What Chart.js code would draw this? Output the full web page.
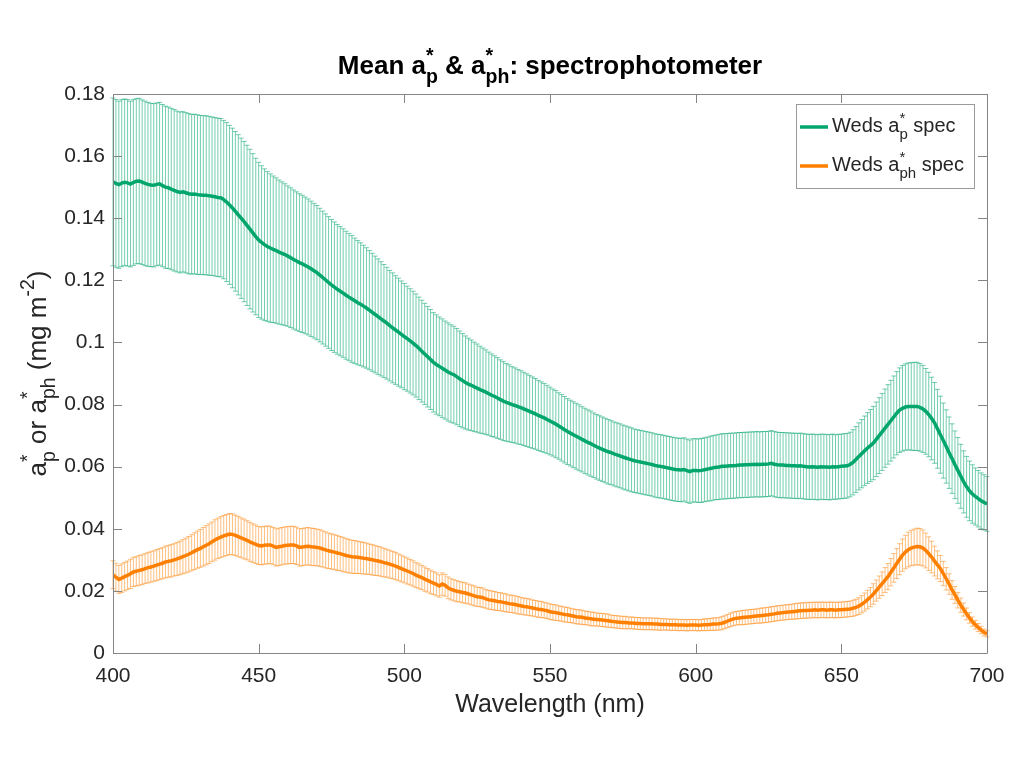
<!DOCTYPE html>
<html>
<head>
<meta charset="utf-8">
<title>Mean a*p & a*ph: spectrophotometer</title>
<script src="https://cdn.jsdelivr.net/npm/chart.js@4.4.1/dist/chart.umd.min.js"></script>
<style>
  html, body { margin: 0; padding: 0; background: #fff; }
  #chart { display: block; }
</style>
</head>
<body>
<canvas id="chart" width="1024" height="768"></canvas>
<script>
// wavelength grid, 1 nm steps
const wavelengths = [];
for (let w = 400; w <= 700; w++) wavelengths.push(w);

const xTicks = [400, 450, 500, 550, 600, 650, 700];
const yTicks = [0, 0.02, 0.04, 0.06, 0.08, 0.1, 0.12, 0.14, 0.16, 0.18];

// Weds a*p spec : mean and std
const greenMean = [
  0.1517,0.1512,0.1508,0.1513,0.1516,0.1514,0.1510,0.1515,0.1519,0.1520,
  0.1516,0.1512,0.1509,0.1507,0.1506,0.1509,0.1511,0.1505,0.1500,0.1498,
  0.1494,0.1490,0.1486,0.1483,0.1485,0.1482,0.1479,0.1477,0.1478,0.1476,
  0.1475,0.1474,0.1474,0.1472,0.1471,0.1469,0.1467,0.1466,0.1460,0.1452,
  0.1443,0.1433,0.1422,0.1411,0.1400,0.1389,0.1377,0.1365,0.1353,0.1341,
  0.1330,0.1322,0.1315,0.1309,0.1304,0.1300,0.1296,0.1291,0.1287,0.1283,
  0.1278,0.1273,0.1267,0.1262,0.1257,0.1253,0.1248,0.1243,0.1237,0.1231,
  0.1225,0.1217,0.1209,0.1201,0.1193,0.1185,0.1178,0.1171,0.1165,0.1159,
  0.1152,0.1146,0.1140,0.1134,0.1128,0.1123,0.1117,0.1111,0.1104,0.1097,
  0.1090,0.1083,0.1076,0.1069,0.1062,0.1054,0.1047,0.1040,0.1033,0.1026,
  0.1019,0.1012,0.1005,0.0998,0.0990,0.0981,0.0972,0.0963,0.0954,0.0945,
  0.0936,0.0929,0.0923,0.0917,0.0911,0.0905,0.0900,0.0896,0.0890,0.0883,
  0.0877,0.0871,0.0866,0.0862,0.0857,0.0853,0.0848,0.0844,0.0840,0.0835,
  0.0830,0.0826,0.0821,0.0816,0.0811,0.0807,0.0804,0.0800,0.0797,0.0793,
  0.0790,0.0786,0.0782,0.0778,0.0774,0.0770,0.0765,0.0761,0.0757,0.0752,
  0.0747,0.0742,0.0737,0.0731,0.0725,0.0719,0.0713,0.0708,0.0703,0.0698,
  0.0693,0.0688,0.0683,0.0678,0.0674,0.0669,0.0664,0.0660,0.0656,0.0652,
  0.0648,0.0645,0.0641,0.0638,0.0635,0.0631,0.0628,0.0625,0.0622,0.0619,
  0.0617,0.0615,0.0613,0.0611,0.0609,0.0607,0.0604,0.0602,0.0601,0.0599,
  0.0597,0.0595,0.0593,0.0591,0.0590,0.0589,0.0591,0.0587,0.0584,0.0588,
  0.0588,0.0587,0.0588,0.0590,0.0592,0.0594,0.0596,0.0598,0.0599,0.0601,
  0.0601,0.0602,0.0603,0.0603,0.0604,0.0605,0.0605,0.0606,0.0606,0.0607,
  0.0607,0.0608,0.0607,0.0608,0.0608,0.0609,0.0611,0.0608,0.0606,0.0605,
  0.0605,0.0604,0.0604,0.0603,0.0603,0.0602,0.0603,0.0601,0.0600,0.0599,
  0.0600,0.0599,0.0598,0.0600,0.0599,0.0599,0.0598,0.0600,0.0599,0.0600,
  0.0601,0.0602,0.0603,0.0607,0.0614,0.0623,0.0633,0.0642,0.0651,0.0660,
  0.0668,0.0676,0.0688,0.0700,0.0712,0.0724,0.0736,0.0748,0.0760,0.0772,
  0.0782,0.0788,0.0792,0.0794,0.0794,0.0794,0.0794,0.0791,0.0786,0.0778,
  0.0768,0.0755,0.0741,0.0722,0.0703,0.0684,0.0665,0.0645,0.0626,0.0606,
  0.0588,0.0569,0.0551,0.0535,0.0522,0.0512,0.0504,0.0497,0.0490,0.0485,
  0.0480
];
const greenStd = [
  0.0270,0.0270,0.0269,0.0269,0.0268,0.0268,0.0267,0.0267,0.0266,0.0266,
  0.0265,0.0265,0.0264,0.0263,0.0263,0.0262,0.0262,0.0261,0.0261,0.0260,
  0.0260,0.0260,0.0259,0.0259,0.0258,0.0258,0.0258,0.0257,0.0257,0.0257,
  0.0256,0.0256,0.0256,0.0256,0.0255,0.0255,0.0255,0.0255,0.0255,0.0256,
  0.0256,0.0257,0.0257,0.0258,0.0258,0.0258,0.0258,0.0257,0.0255,0.0252,
  0.0250,0.0247,0.0244,0.0241,0.0239,0.0236,0.0234,0.0232,0.0230,0.0228,
  0.0226,0.0225,0.0224,0.0223,0.0222,0.0221,0.0220,0.0219,0.0218,0.0217,
  0.0216,0.0215,0.0214,0.0213,0.0212,0.0211,0.0210,0.0209,0.0208,0.0207,
  0.0206,0.0205,0.0204,0.0202,0.0200,0.0198,0.0196,0.0194,0.0192,0.0190,
  0.0188,0.0186,0.0184,0.0182,0.0180,0.0178,0.0177,0.0175,0.0174,0.0172,
  0.0171,0.0169,0.0168,0.0167,0.0166,0.0165,0.0164,0.0163,0.0162,0.0161,
  0.0160,0.0160,0.0159,0.0159,0.0158,0.0158,0.0157,0.0156,0.0155,0.0154,
  0.0152,0.0150,0.0148,0.0146,0.0144,0.0142,0.0140,0.0138,0.0136,0.0134,
  0.0133,0.0131,0.0130,0.0128,0.0127,0.0125,0.0124,0.0122,0.0121,0.0120,
  0.0119,0.0118,0.0117,0.0116,0.0115,0.0114,0.0113,0.0112,0.0111,0.0110,
  0.0109,0.0108,0.0108,0.0107,0.0107,0.0107,0.0106,0.0106,0.0106,0.0106,
  0.0106,0.0105,0.0105,0.0105,0.0105,0.0104,0.0104,0.0104,0.0104,0.0104,
  0.0104,0.0103,0.0103,0.0103,0.0103,0.0103,0.0103,0.0103,0.0103,0.0102,
  0.0102,0.0102,0.0102,0.0102,0.0102,0.0102,0.0102,0.0102,0.0102,0.0102,
  0.0102,0.0102,0.0102,0.0102,0.0102,0.0102,0.0102,0.0102,0.0102,0.0102,
  0.0102,0.0102,0.0103,0.0103,0.0103,0.0104,0.0104,0.0104,0.0105,0.0105,
  0.0105,0.0105,0.0105,0.0105,0.0105,0.0105,0.0105,0.0105,0.0105,0.0105,
  0.0105,0.0105,0.0105,0.0105,0.0105,0.0105,0.0105,0.0105,0.0105,0.0105,
  0.0105,0.0105,0.0105,0.0105,0.0105,0.0105,0.0105,0.0105,0.0105,0.0105,
  0.0105,0.0105,0.0105,0.0105,0.0105,0.0105,0.0105,0.0105,0.0104,0.0104,
  0.0104,0.0104,0.0104,0.0104,0.0105,0.0106,0.0108,0.0110,0.0112,0.0114,
  0.0116,0.0118,0.0120,0.0122,0.0124,0.0126,0.0128,0.0130,0.0132,0.0134,
  0.0136,0.0138,0.0139,0.0140,0.0141,0.0142,0.0142,0.0141,0.0140,0.0138,
  0.0136,0.0133,0.0130,0.0127,0.0124,0.0121,0.0118,0.0115,0.0112,0.0109,
  0.0106,0.0103,0.0100,0.0098,0.0096,0.0094,0.0092,0.0091,0.0090,0.0089,
  0.0088
];

// Weds a*ph spec : mean and std
const orangeMean = [
  0.0252,0.0244,0.0237,0.0241,0.0246,0.0250,0.0255,0.0261,0.0263,0.0266,
  0.0268,0.0272,0.0275,0.0277,0.0280,0.0283,0.0286,0.0289,0.0293,0.0295,
  0.0297,0.0300,0.0303,0.0306,0.0310,0.0314,0.0318,0.0323,0.0328,0.0333,
  0.0337,0.0342,0.0347,0.0352,0.0358,0.0364,0.0369,0.0373,0.0377,0.0380,
  0.0383,0.0382,0.0379,0.0375,0.0371,0.0367,0.0363,0.0358,0.0354,0.0350,
  0.0346,0.0345,0.0347,0.0348,0.0348,0.0344,0.0340,0.0342,0.0344,0.0346,
  0.0347,0.0348,0.0348,0.0345,0.0340,0.0341,0.0343,0.0344,0.0342,0.0341,
  0.0340,0.0338,0.0335,0.0332,0.0329,0.0327,0.0325,0.0322,0.0320,0.0317,
  0.0314,0.0312,0.0310,0.0309,0.0308,0.0307,0.0305,0.0304,0.0302,0.0300,
  0.0298,0.0296,0.0294,0.0291,0.0289,0.0286,0.0283,0.0280,0.0276,0.0272,
  0.0268,0.0264,0.0260,0.0256,0.0251,0.0247,0.0243,0.0238,0.0234,0.0229,
  0.0225,0.0221,0.0216,0.0222,0.0218,0.0210,0.0205,0.0202,0.0199,0.0197,
  0.0195,0.0193,0.0190,0.0187,0.0184,0.0181,0.0180,0.0178,0.0174,0.0171,
  0.0170,0.0168,0.0166,0.0165,0.0163,0.0161,0.0159,0.0158,0.0156,0.0154,
  0.0152,0.0150,0.0149,0.0147,0.0145,0.0143,0.0141,0.0140,0.0138,0.0136,
  0.0133,0.0131,0.0130,0.0128,0.0126,0.0124,0.0123,0.0121,0.0119,0.0117,
  0.0116,0.0115,0.0113,0.0112,0.0110,0.0109,0.0108,0.0107,0.0106,0.0105,
  0.0104,0.0102,0.0101,0.0100,0.0099,0.0098,0.0098,0.0097,0.0097,0.0096,
  0.0095,0.0095,0.0094,0.0094,0.0094,0.0094,0.0093,0.0093,0.0092,0.0092,
  0.0092,0.0091,0.0091,0.0091,0.0090,0.0090,0.0090,0.0089,0.0090,0.0090,
  0.0090,0.0089,0.0090,0.0091,0.0091,0.0092,0.0093,0.0093,0.0094,0.0096,
  0.0099,0.0103,0.0107,0.0110,0.0112,0.0113,0.0114,0.0115,0.0116,0.0117,
  0.0118,0.0119,0.0120,0.0121,0.0122,0.0123,0.0125,0.0126,0.0128,0.0129,
  0.0130,0.0131,0.0132,0.0133,0.0134,0.0135,0.0136,0.0137,0.0137,0.0138,
  0.0138,0.0139,0.0138,0.0139,0.0139,0.0138,0.0139,0.0139,0.0138,0.0139,
  0.0139,0.0140,0.0141,0.0142,0.0144,0.0147,0.0151,0.0157,0.0164,0.0172,
  0.0180,0.0190,0.0201,0.0212,0.0223,0.0235,0.0246,0.0260,0.0274,0.0288,
  0.0302,0.0315,0.0325,0.0333,0.0338,0.0341,0.0343,0.0342,0.0338,0.0330,
  0.0320,0.0309,0.0296,0.0284,0.0272,0.0256,0.0239,0.0222,0.0203,0.0187,
  0.0170,0.0154,0.0140,0.0126,0.0113,0.0101,0.0091,0.0082,0.0074,0.0066,
  0.0062
];
const orangeStd = [
  0.0045,0.0045,0.0045,0.0046,0.0046,0.0046,0.0047,0.0047,0.0047,0.0048,
  0.0048,0.0048,0.0049,0.0049,0.0049,0.0050,0.0050,0.0050,0.0051,0.0051,
  0.0052,0.0052,0.0053,0.0054,0.0055,0.0056,0.0057,0.0058,0.0059,0.0060,
  0.0061,0.0062,0.0063,0.0064,0.0064,0.0065,0.0065,0.0066,0.0066,0.0066,
  0.0066,0.0066,0.0065,0.0065,0.0064,0.0064,0.0063,0.0063,0.0062,0.0062,
  0.0061,0.0061,0.0061,0.0061,0.0060,0.0060,0.0060,0.0060,0.0060,0.0060,
  0.0060,0.0060,0.0060,0.0060,0.0060,0.0060,0.0060,0.0060,0.0060,0.0060,
  0.0059,0.0059,0.0058,0.0058,0.0057,0.0057,0.0056,0.0056,0.0055,0.0055,
  0.0054,0.0054,0.0053,0.0053,0.0052,0.0051,0.0051,0.0050,0.0049,0.0049,
  0.0048,0.0047,0.0047,0.0046,0.0045,0.0045,0.0044,0.0044,0.0043,0.0043,
  0.0042,0.0042,0.0041,0.0041,0.0040,0.0040,0.0039,0.0039,0.0038,0.0038,
  0.0037,0.0037,0.0036,0.0036,0.0035,0.0035,0.0034,0.0034,0.0034,0.0033,
  0.0033,0.0033,0.0032,0.0032,0.0032,0.0031,0.0031,0.0031,0.0030,0.0030,
  0.0030,0.0030,0.0029,0.0029,0.0029,0.0029,0.0028,0.0028,0.0028,0.0028,
  0.0027,0.0027,0.0027,0.0027,0.0026,0.0026,0.0026,0.0026,0.0025,0.0025,
  0.0025,0.0025,0.0025,0.0024,0.0024,0.0024,0.0024,0.0023,0.0023,0.0023,
  0.0023,0.0023,0.0022,0.0022,0.0022,0.0022,0.0021,0.0021,0.0021,0.0021,
  0.0021,0.0020,0.0020,0.0020,0.0020,0.0020,0.0020,0.0019,0.0019,0.0019,
  0.0019,0.0019,0.0019,0.0019,0.0019,0.0019,0.0019,0.0019,0.0019,0.0018,
  0.0018,0.0018,0.0018,0.0018,0.0018,0.0018,0.0018,0.0018,0.0018,0.0018,
  0.0018,0.0018,0.0018,0.0019,0.0019,0.0019,0.0020,0.0020,0.0020,0.0021,
  0.0021,0.0021,0.0022,0.0022,0.0022,0.0022,0.0023,0.0023,0.0023,0.0023,
  0.0023,0.0023,0.0024,0.0024,0.0024,0.0024,0.0024,0.0024,0.0024,0.0024,
  0.0024,0.0024,0.0024,0.0024,0.0025,0.0025,0.0025,0.0025,0.0025,0.0025,
  0.0025,0.0025,0.0025,0.0025,0.0025,0.0025,0.0025,0.0025,0.0025,0.0025,
  0.0025,0.0025,0.0025,0.0025,0.0026,0.0026,0.0027,0.0028,0.0029,0.0030,
  0.0031,0.0033,0.0034,0.0036,0.0038,0.0040,0.0042,0.0044,0.0046,0.0048,
  0.0050,0.0052,0.0054,0.0056,0.0057,0.0058,0.0059,0.0059,0.0058,0.0056,
  0.0054,0.0051,0.0048,0.0045,0.0042,0.0039,0.0036,0.0033,0.0030,0.0027,
  0.0025,0.0023,0.0021,0.0019,0.0017,0.0015,0.0014,0.0013,0.0012,0.0011,
  0.0010
];

const GREEN = 'rgb(0,166,108)';
const ORANGE = 'rgb(255,128,0)';
const GREEN_BAR = 'rgba(0,166,108,0.55)';
const ORANGE_BAR = 'rgba(255,128,0,0.5)';
const AXIS_COLOR = '#858585';
const TEXT_COLOR = '#262626';
const FONT = "'Liberation Sans', Arial, Helvetica, sans-serif";
const SCRIPT = 0.75;
const CAP = 2.5;
const TICK_LEN = 9;

// rich text parts: {t} plain, {sup, sub} stacked scripts
const titleParts = [{ t: 'Mean a' }, { sup: '*', sub: 'p' }, { t: ' & a' }, { sup: '*', sub: 'ph' }, { t: ': spectrophotometer' }];
const yLabelParts = [{ t: 'a' }, { sup: '*', sub: 'p' }, { t: ' or a' }, { sup: '*', sub: 'ph' }, { t: ' (mg m' }, { sup: '-2' }, { t: ')' }];
const legendItems = [
  { color: GREEN, parts: [{ t: 'Weds a' }, { sup: '*', sub: 'p' }, { t: ' spec' }] },
  { color: ORANGE, parts: [{ t: 'Weds a' }, { sup: '*', sub: 'ph' }, { t: ' spec' }] }
];

function richWidth(ctx, parts, size, weight) {
  let w = 0;
  parts.forEach(p => {
    if (p.t !== undefined) {
      ctx.font = `${weight} ${size}px ${FONT}`;
      w += ctx.measureText(p.t).width;
    } else {
      ctx.font = `${weight} ${size * SCRIPT}px ${FONT}`;
      w += Math.max(p.sup ? ctx.measureText(p.sup).width : 0, p.sub ? ctx.measureText(p.sub).width : 0);
    }
  });
  return w;
}

function drawRich(ctx, x, y, parts, size, weight, align) {
  let cx = align === 'center' ? x - richWidth(ctx, parts, size, weight) / 2 : x;
  ctx.textAlign = 'left';
  ctx.textBaseline = 'alphabetic';
  parts.forEach(p => {
    if (p.t !== undefined) {
      ctx.font = `${weight} ${size}px ${FONT}`;
      ctx.fillText(p.t, cx, y);
      cx += ctx.measureText(p.t).width;
    } else {
      ctx.font = `${weight} ${size * SCRIPT}px ${FONT}`;
      let w = 0;
      if (p.sup) {
        ctx.fillText(p.sup, cx, y - size * 0.45);
        w = ctx.measureText(p.sup).width;
      }
      if (p.sub) {
        ctx.fillText(p.sub, cx, y + size * 0.36);
        w = Math.max(w, ctx.measureText(p.sub).width);
      }
      cx += w;
    }
  });
}

const errorBars = {
  id: 'errorBars',
  beforeDatasetsDraw(chart) {
    const { ctx, scales: { x, y } } = chart;
    const series = [[greenMean, greenStd, GREEN_BAR], [orangeMean, orangeStd, ORANGE_BAR]];
    ctx.save();
    ctx.lineWidth = 1;
    series.forEach(([mean, sd, color]) => {
      ctx.strokeStyle = color;
      ctx.beginPath();
      wavelengths.forEach((w, i) => {
        const px = x.getPixelForValue(w);
        const top = y.getPixelForValue(mean[i] + sd[i]);
        const bot = y.getPixelForValue(mean[i] - sd[i]);
        ctx.moveTo(px, top); ctx.lineTo(px, bot);
        ctx.moveTo(px - CAP, top); ctx.lineTo(px + CAP, top);
        ctx.moveTo(px - CAP, bot); ctx.lineTo(px + CAP, bot);
      });
      ctx.stroke();
    });
    ctx.restore();
  }
};

const matlabFrame = {
  id: 'matlabFrame',
  afterDraw(chart) {
    const { ctx, chartArea: a, scales: { x, y } } = chart;
    ctx.save();
    // box and inward ticks
    ctx.strokeStyle = AXIS_COLOR;
    ctx.lineWidth = 1;
    ctx.beginPath();
    ctx.rect(Math.round(a.left) + 0.5, Math.round(a.top) + 0.5, Math.round(a.right - a.left), Math.round(a.bottom - a.top));
    xTicks.forEach(v => {
      const px = Math.round(x.getPixelForValue(v)) + 0.5;
      ctx.moveTo(px, a.bottom); ctx.lineTo(px, a.bottom - TICK_LEN);
      ctx.moveTo(px, a.top); ctx.lineTo(px, a.top + TICK_LEN);
    });
    yTicks.forEach(v => {
      const py = Math.round(y.getPixelForValue(v)) + 0.5;
      ctx.moveTo(a.left, py); ctx.lineTo(a.left + TICK_LEN, py);
      ctx.moveTo(a.right, py); ctx.lineTo(a.right - TICK_LEN, py);
    });
    ctx.stroke();

    ctx.fillStyle = '#000';
    drawRich(ctx, (a.left + a.right) / 2, 74, titleParts, 26, 'bold', 'center');

    ctx.fillStyle = TEXT_COLOR;
    ctx.font = `25px ${FONT}`;
    ctx.textAlign = 'center';
    ctx.textBaseline = 'alphabetic';
    ctx.fillText('Wavelength (nm)', (a.left + a.right) / 2, 712);

    ctx.save();
    ctx.translate(46, (a.top + a.bottom) / 2);
    ctx.rotate(-Math.PI / 2);
    drawRich(ctx, 0, 0, yLabelParts, 26, 'normal', 'center');
    ctx.restore();

    // legend
    const box = { x: 796, y: 104, w: 178, h: 84 };
    ctx.fillStyle = '#fff';
    ctx.fillRect(box.x, box.y, box.w, box.h);
    ctx.strokeStyle = '#9a9a9a';
    ctx.lineWidth = 1;
    ctx.strokeRect(box.x + 0.5, box.y + 0.5, box.w, box.h);
    legendItems.forEach((item, i) => {
      const ly = 127 + i * 39;
      ctx.strokeStyle = item.color;
      ctx.lineWidth = 3.5;
      ctx.beginPath();
      ctx.moveTo(800, ly); ctx.lineTo(828, ly);
      ctx.stroke();
      ctx.fillStyle = TEXT_COLOR;
      drawRich(ctx, 832, ly + 5, item.parts, 20, 'normal', 'left');
    });
    ctx.restore();
  }
};

new Chart(document.getElementById('chart'), {
  type: 'line',
  data: {
    datasets: [
      {
        label: 'Weds a*p spec',
        data: wavelengths.map((w, i) => ({ x: w, y: greenMean[i] })),
        borderColor: GREEN,
        borderWidth: 3.5,
        pointRadius: 0,
        tension: 0
      },
      {
        label: 'Weds a*ph spec',
        data: wavelengths.map((w, i) => ({ x: w, y: orangeMean[i] })),
        borderColor: ORANGE,
        borderWidth: 3.5,
        pointRadius: 0,
        tension: 0
      }
    ]
  },
  options: {
    responsive: false,
    devicePixelRatio: 1,
    animation: false,
    layout: { padding: { top: 94, right: 37, left: 0, bottom: 0 } },
    plugins: { legend: { display: false }, tooltip: { enabled: false }, title: { display: false } },
    scales: {
      x: {
        type: 'linear',
        min: 400,
        max: 700,
        afterBuildTicks: s => { s.ticks = xTicks.map(v => ({ value: v })); },
        afterFit: s => { s.height = 115; },
        grid: { display: false, drawTicks: false },
        border: { display: false },
        ticks: { color: TEXT_COLOR, font: { family: FONT, size: 21 }, padding: 11, maxRotation: 0 }
      },
      y: {
        min: 0,
        max: 0.18,
        afterBuildTicks: s => { s.ticks = yTicks.map(v => ({ value: v })); },
        afterFit: s => { s.width = 113; },
        grid: { display: false, drawTicks: false },
        border: { display: false },
        ticks: {
          color: TEXT_COLOR,
          font: { family: FONT, size: 21 },
          padding: 8,
          callback: v => String(+v.toFixed(2))
        }
      }
    }
  },
  plugins: [errorBars, matlabFrame]
});
</script>
</body>
</html>
